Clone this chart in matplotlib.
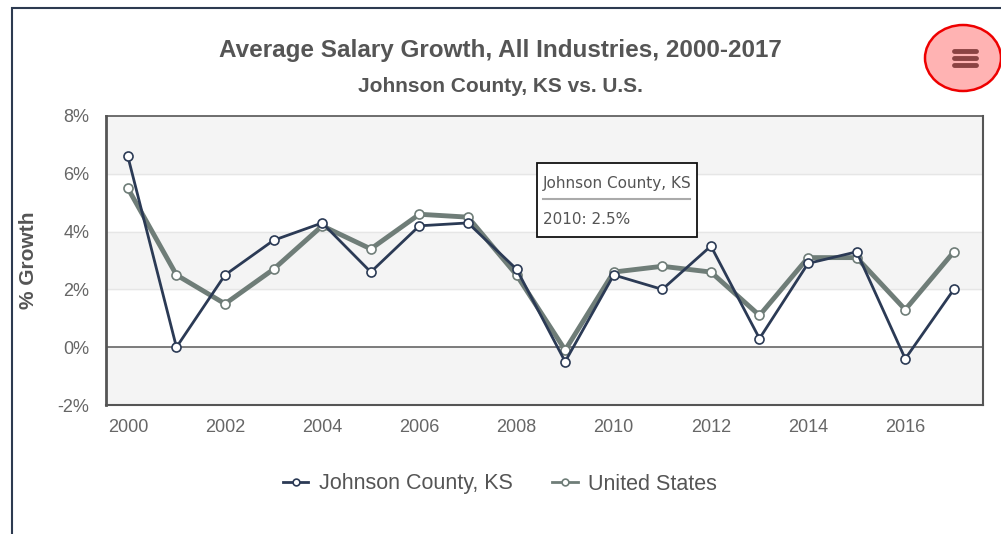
import matplotlib.pyplot as plt
from matplotlib.patches import Ellipse, Rectangle

plt.rcParams['font.family'] = ['Liberation Sans', 'DejaVu Sans']

years = list(range(2000, 2018))
johnson = [6.6, 0.0, 2.5, 3.7, 4.3, 2.6, 4.2, 4.3, 2.7, -0.5, 2.5, 2.0, 3.5, 0.3, 2.9, 3.3, -0.4, 2.0]
united_states = [5.5, 2.5, 1.5, 2.7, 4.2, 3.4, 4.6, 4.5, 2.5, -0.1, 2.6, 2.8, 2.6, 1.1, 3.1, 3.1, 1.3, 3.3]
y_ticks = [-2, 0, 2, 4, 6, 8]
x_ticks = list(range(2000, 2017, 2))

W, H = 1001, 534
fig = plt.figure(figsize=(W / 100, H / 100), dpi=100)
fig.patch.set_facecolor('white')

# outer frame of the screenshot
fig.patches.append(Rectangle((12 / W, -0.1), 1.2, (H - 8) / H + 0.1, transform=fig.transFigure,
                             fill=False, edgecolor='#2d3a50', linewidth=1.5))

ax = fig.add_axes([106 / W, 1 - 405 / H, (983 - 106) / W, (405 - 116) / H])
ax.set_facecolor('white')
ax.set_xlim(1999.55, 2017.6)
ax.set_ylim(-2, 8)

# alternating bands
for lo in [-2, 2, 6]:
    ax.axhspan(lo, lo + 2, color='#f4f4f4', zorder=0)
for y in [2, 4, 6]:
    ax.axhline(y, color='#e6e6e6', linewidth=1, zorder=1)
ax.axhline(0, color='#666666', linewidth=1.2, zorder=1)

ax.plot(years, united_states, color='#6f7d78', linewidth=3.5, marker='o', markersize=6.5,
        markerfacecolor='white', markeredgecolor='#6f7d78', markeredgewidth=1.2,
        label='United States', zorder=3)
ax.plot(years, johnson, color='#2b3a55', linewidth=2, marker='o', markersize=6.5,
        markerfacecolor='white', markeredgecolor='#2b3a55', markeredgewidth=1.2,
        label='Johnson County, KS', zorder=4)

for side in ['left', 'bottom', 'right', 'top']:
    ax.spines[side].set_color('#555555')
ax.spines['left'].set_linewidth(2)
ax.spines['bottom'].set_linewidth(1.5)
ax.spines['right'].set_linewidth(1.5)
ax.spines['top'].set_linewidth(1.2)

ax.set_yticks(y_ticks)
ax.set_yticklabels([f'{v}%' for v in y_ticks])
ax.set_xticks(x_ticks)
ax.set_xticklabels([str(v) for v in x_ticks])
ax.tick_params(axis='both', length=0, labelsize=13, colors='#666666', pad=10)
ax.tick_params(axis='y', pad=12)
ax.set_ylabel('% Growth', fontsize=15, fontweight='bold', color='#555555', labelpad=14)

fig.text(500 / W, 1 - 50 / H, 'Average Salary Growth, All Industries, 2000-2017',
         ha='center', va='center', fontsize=17.5, fontweight='bold', color='#555555')
fig.text(500 / W, 1 - 86 / H, 'Johnson County, KS vs. U.S.',
         ha='center', va='center', fontsize=15, fontweight='bold', color='#555555')

# legend
handles, labels = ax.get_legend_handles_labels()
leg = fig.legend(handles[::-1], labels[::-1], loc='center', bbox_to_anchor=(500 / W, 1 - 484 / H),
                 ncol=2, frameon=False, fontsize=15.5, handlelength=1.2, columnspacing=1.8,
                 markerscale=0.75, handletextpad=0.5)
for t in leg.get_texts():
    t.set_color('#555555')
for h in leg.legend_handles:
    h.set_linewidth(2)

# tooltip
fig.patches.append(Rectangle((537 / W, 1 - 237 / H), 160 / W, 74 / H, transform=fig.transFigure,
                             facecolor='white', edgecolor='#111111', linewidth=1.3, zorder=10))
fig.text(543 / W, 1 - 183 / H, 'Johnson County, KS', fontsize=11, color='#555555',
         family='DejaVu Sans', va='center', zorder=11)
fig.add_artist(plt.Line2D([543 / W, 690 / W], [1 - 199 / H, 1 - 199 / H], color='#aaaaaa',
                          linewidth=1.5, zorder=11))
fig.text(543 / W, 1 - 219 / H, '2010: 2.5%', fontsize=11, color='#555555',
         family='DejaVu Sans', va='center', zorder=11)

# menu button
fig.patches.append(Ellipse((963 / W, 1 - 58 / H), 76 / W, 66 / H, transform=fig.transFigure,
                           facecolor='#ffb3b3', edgecolor='#ee0000', linewidth=1.8, zorder=10))
for dy in [-7, 0, 7]:
    fig.add_artist(plt.Line2D([954 / W, 976 / W], [1 - (58 + dy) / H, 1 - (58 + dy) / H],
                              color='#8b4343', linewidth=3.5, solid_capstyle='round', zorder=11))

fig.savefig('out.png', dpi=100)
